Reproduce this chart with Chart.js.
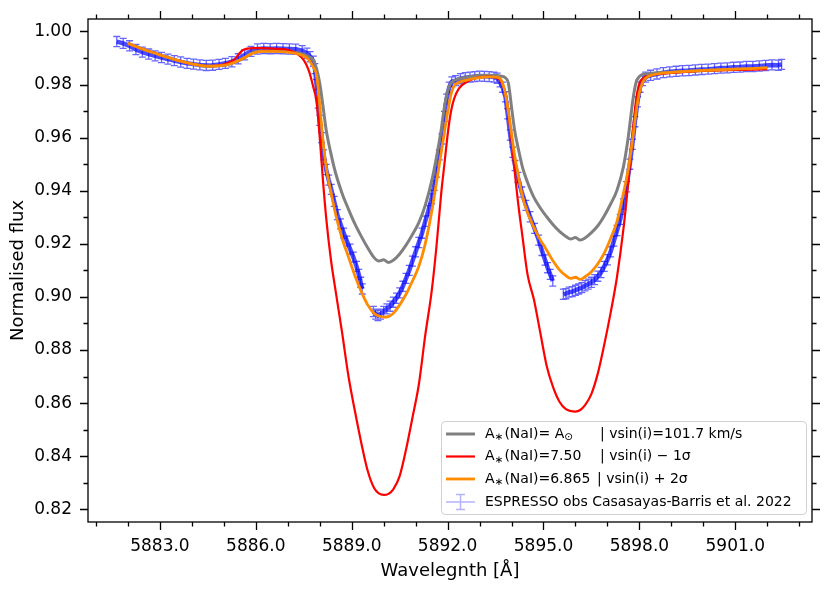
<!DOCTYPE html>
<html>
<head>
<meta charset="utf-8">
<script src="https://cdn.jsdelivr.net/npm/chart.js@4.4.0/dist/chart.umd.min.js"></script>
<style>
  html, body { margin: 0; padding: 0; background: #fff; }
  #wrap { width: 831px; height: 591px; }
</style>
</head>
<body>
<div id="wrap"><canvas id="naChart"></canvas></div>
<script>
// ESPRESSO observation (wavelength in A, normalised flux)
const obsWave = [
  5881.65, 5881.85, 5882.05, 5882.25, 5882.45, 5882.65, 5882.85, 5883.05, 5883.25, 5883.45,
  5883.65, 5883.85, 5884.05, 5884.25, 5884.45, 5884.65, 5884.85, 5885.05, 5885.25, 5885.45,
  5885.65, 5885.85, 5886.05, 5886.25, 5886.45, 5886.65, 5886.85, 5887.05, 5887.25, 5887.45,
  5887.60, 5887.70, 5887.80, 5887.85, 5887.90, 5887.95, 5888.00, 5888.06, 5888.12, 5888.20,
  5888.28, 5888.36, 5888.45, 5888.55, 5888.65, 5888.75, 5888.85, 5888.95, 5889.05, 5889.15,
  5889.22, 5889.28, 5889.33, null,
  5889.68, 5889.75, 5889.82, 5889.90, 5890.00, 5890.10, 5890.20, 5890.30, 5890.40, 5890.50,
  5890.60, 5890.70, 5890.80, 5890.90, 5891.00, 5891.10, 5891.20, 5891.30, 5891.40, 5891.50,
  5891.58, 5891.66, 5891.74, 5891.82, 5891.90, 5891.97, 5892.05, 5892.13, 5892.25, 5892.40,
  5892.55, 5892.70, 5892.85, 5893.00, 5893.15, 5893.30, 5893.45, 5893.55, 5893.64, 5893.72,
  5893.81, 5893.88, 5893.96, 5894.04, 5894.11, 5894.20, 5894.32, 5894.45, 5894.58, 5894.72,
  5894.85, 5894.95, 5895.05, 5895.13, 5895.21, 5895.29, null,
  5895.62, 5895.70, 5895.80, 5895.90, 5896.00, 5896.10, 5896.20, 5896.30, 5896.40, 5896.50,
  5896.60, 5896.70, 5896.80, 5896.90, 5897.00, 5897.10, 5897.20, 5897.30, 5897.40, 5897.50,
  5897.60, 5897.70, 5897.78, 5897.86, 5897.94, 5898.02, 5898.10, 5898.20, 5898.35, 5898.55,
  5898.75, 5898.95, 5899.15, 5899.35, 5899.55, 5899.75, 5899.95, 5900.15, 5900.35, 5900.55,
  5900.75, 5900.95, 5901.15, 5901.35, 5901.55, 5901.75, 5901.95, 5902.15, 5902.35, 5902.45
];
const obsFlux = [
  0.9962, 0.9955, 0.9946, 0.9932, 0.9922, 0.9915, 0.9908, 0.9902, 0.9896, 0.9890,
  0.9885, 0.9880, 0.9877, 0.9874, 0.9872, 0.9873, 0.9876, 0.9880, 0.9886, 0.9897,
  0.9912, 0.9925, 0.9934, 0.9936, 0.9935, 0.9936, 0.9935, 0.9934, 0.9933, 0.9928,
  0.9918, 0.9905, 0.9888, 0.9860, 0.9800, 0.9730, 0.9665, 0.9600, 0.9535, 0.9480,
  0.9440, 0.9405, 0.9360, 0.9310, 0.9275, 0.9240, 0.9210, 0.9180, 0.9150, 0.9115,
  0.9085, 0.9055, 0.9030, null,
  0.8945, 0.8935, 0.8930, 0.8935, 0.8945, 0.8955, 0.8965, 0.8980, 0.8995, 0.9015,
  0.9040, 0.9070, 0.9100, 0.9135, 0.9170, 0.9205, 0.9240, 0.9285, 0.9325, 0.9370,
  0.9420, 0.9470, 0.9535, 0.9595, 0.9680, 0.9745, 0.9790, 0.9810, 0.9815, 0.9822,
  0.9826, 0.9828, 0.9830, 0.9832, 0.9831, 0.9830, 0.9828, 0.9824, 0.9810, 0.9790,
  0.9754, 0.9690, 0.9610, 0.9545, 0.9495, 0.9450, 0.9395, 0.9345, 0.9302, 0.9258,
  0.9214, 0.9175, 0.9139, 0.9110, 0.9085, 0.9060, null,
  0.9010, 0.9012, 0.9018, 0.9020, 0.9025, 0.9030, 0.9035, 0.9042, 0.9048, 0.9055,
  0.9065, 0.9078, 0.9092, 0.9115, 0.9140, 0.9170, 0.9210, 0.9250, 0.9292, 0.9350,
  0.9415, 0.9500, 0.9575, 0.9660, 0.9735, 0.9790, 0.9815, 0.9828, 0.9835, 0.9840,
  0.9845, 0.9848, 0.9850, 0.9852, 0.9853, 0.9855, 0.9857, 0.9858, 0.9860, 0.9862,
  0.9863, 0.9865, 0.9866, 0.9868, 0.9868, 0.9870, 0.9872, 0.9874, 0.9873, 0.9876
];
const obsErr = 0.0019;

// synthetic spectra, shared wavelength grid
const modelWave = [
  5882.0, 5882.5, 5883.0, 5883.5, 5884.0, 5884.5, 5885.0, 5885.3, 5885.6, 5885.9,
  5886.2, 5886.6, 5887.0, 5887.3, 5887.5, 5887.65, 5887.8, 5887.9, 5888.0, 5888.1,
  5888.2, 5888.35, 5888.5, 5888.7, 5888.9, 5889.1, 5889.3, 5889.5, 5889.7, 5889.85,
  5890.0, 5890.15, 5890.3, 5890.5, 5890.7, 5890.9, 5891.1, 5891.3, 5891.5, 5891.65,
  5891.8, 5891.9, 5892.0, 5892.1, 5892.2, 5892.35, 5892.6, 5893.0, 5893.3, 5893.5,
  5893.65, 5893.8, 5893.9, 5894.0, 5894.1, 5894.2, 5894.35, 5894.5, 5894.7, 5894.9,
  5895.1, 5895.3, 5895.5, 5895.7, 5895.85, 5896.0, 5896.15, 5896.3, 5896.5, 5896.7,
  5896.9, 5897.1, 5897.3, 5897.5, 5897.65, 5897.8, 5897.9, 5898.0, 5898.1, 5898.2,
  5898.4, 5898.8, 5899.5, 5900.2, 5901.0, 5901.5, 5902.0
];
const fluxSolar = [
  0.9956, 0.9932, 0.9912, 0.9893, 0.9878, 0.9869, 0.9872, 0.9882, 0.9898, 0.9920,
  0.9926, 0.9926, 0.9924, 0.9920, 0.9914, 0.9906, 0.9892, 0.9860, 0.9805, 0.9720,
  0.9630, 0.9540, 0.9465, 0.9390, 0.9330, 0.9275, 0.9228, 0.9185, 0.9148, 0.9135,
  0.9140, 0.9130, 0.9138, 0.9162, 0.9195, 0.9235, 0.9280, 0.9345, 0.9435, 0.9525,
  0.9630, 0.9715, 0.9775, 0.9805, 0.9815, 0.9822, 0.9828, 0.9834, 0.9835, 0.9834,
  0.9832, 0.9826, 0.9806, 0.9715, 0.9625, 0.9565, 0.9485, 0.9432, 0.9375, 0.9335,
  0.9302, 0.9272, 0.9247, 0.9228, 0.9218, 0.9224, 0.9214, 0.9222, 0.9242, 0.9268,
  0.9305, 0.9350, 0.9402, 0.9490, 0.9600, 0.9745, 0.9810, 0.9830, 0.9838, 0.9840,
  0.9843, 0.9846, 0.9850, 0.9854, 0.9858, 0.9860, 0.9863
];
const fluxHigh = [
  0.9955, 0.9932, 0.9912, 0.9893, 0.9878, 0.9870, 0.9876, 0.9892, 0.9930, 0.9937,
  0.9937, 0.9935, 0.9931, 0.9915, 0.9892, 0.9855, 0.9790, 0.9735, 0.9600, 0.9440,
  0.9300, 0.9140, 0.9020, 0.8865, 0.8700, 0.8570, 0.8450, 0.8345, 0.8280, 0.8260,
  0.8254, 0.8258, 0.8275, 0.8325, 0.8425, 0.8545, 0.8670, 0.8855, 0.9020, 0.9188,
  0.9390, 0.9500, 0.9610, 0.9695, 0.9745, 0.9785, 0.9810, 0.9828, 0.9830, 0.9826,
  0.9815, 0.9770, 0.9690, 0.9590, 0.9470, 0.9360, 0.9220, 0.9085, 0.8990, 0.8865,
  0.8740, 0.8660, 0.8605, 0.8577, 0.8570, 0.8568, 0.8574, 0.8592, 0.8635, 0.8712,
  0.8820, 0.8940, 0.9076, 0.9255, 0.9430, 0.9630, 0.9745, 0.9805, 0.9822, 0.9830,
  0.9836, 0.9842, 0.9848, 0.9852, 0.9855, 0.9856, 0.9858
];
const fluxBest = [
  0.9955, 0.9932, 0.9912, 0.9893, 0.9878, 0.9869, 0.9872, 0.9882, 0.9898, 0.9918,
  0.9925, 0.9925, 0.9922, 0.9916, 0.9908, 0.9895, 0.9865, 0.9835, 0.9720, 0.9590,
  0.9490, 0.9395, 0.9310, 0.9220, 0.9150, 0.9080, 0.9020, 0.8970, 0.8938, 0.8928,
  0.8924, 0.8926, 0.8938, 0.8970, 0.9010, 0.9060, 0.9115, 0.9200, 0.9320, 0.9430,
  0.9545, 0.9620, 0.9695, 0.9760, 0.9795, 0.9808, 0.9817, 0.9826, 0.9829, 0.9828,
  0.9822, 0.9770, 0.9700, 0.9615, 0.9530, 0.9465, 0.9375, 0.9318, 0.9262, 0.9215,
  0.9176, 0.9135, 0.9102, 0.9080, 0.9070, 0.9074, 0.9066, 0.9076, 0.9095, 0.9125,
  0.9165, 0.9220, 0.9285, 0.9390, 0.9480, 0.9605, 0.9700, 0.9770, 0.9808, 0.9825,
  0.9836, 0.9844, 0.9850, 0.9854, 0.9858, 0.9860, 0.9863
];

const xTicks = [5883, 5886, 5889, 5892, 5895, 5898, 5901];
const yTicks = [0.82, 0.84, 0.86, 0.88, 0.90, 0.92, 0.94, 0.96, 0.98, 1.00];
const xRange = [5880.75, 5903.4];
const yRange = [0.8152, 1.0047];

const FONT = "'DejaVu Sans', 'Liberation Sans', sans-serif";
// where the plot frame should sit on the 831x591 page
const frame = { left: 88, top: 19, right: 812, bottom: 522 };

function pairs(xs, ys) {
  return xs.map((x, i) => ({ x: x, y: ys[i] }));
}

// outward ticks on all four sides, major + minor
const frameTicks = {
  id: "frameTicks",
  afterDraw(chart) {
    const { ctx, chartArea: a, scales } = chart;
    ctx.save();
    ctx.strokeStyle = "#000";
    ctx.lineWidth = 1.3;
    ctx.strokeRect(a.left, a.top, a.right - a.left, a.bottom - a.top);
    ctx.beginPath();
    for (let v = Math.ceil(xRange[0]); v <= xRange[1]; v++) {
      const x = Math.round(scales.x.getPixelForValue(v)) + 0.5;
      const len = xTicks.includes(v) ? 8 : 4.5;
      ctx.moveTo(x, a.bottom); ctx.lineTo(x, a.bottom + len);
      ctx.moveTo(x, a.top); ctx.lineTo(x, a.top - len);
    }
    for (let k = 82; k <= 100; k++) {
      const y = Math.round(scales.y.getPixelForValue(k / 100)) + 0.5;
      const len = k % 2 === 0 ? 8 : 4.5;
      ctx.moveTo(a.left, y); ctx.lineTo(a.left - len, y);
      ctx.moveTo(a.right, y); ctx.lineTo(a.right + len, y);
    }
    ctx.stroke();
    ctx.restore();
  }
};

// vertical error bars with caps on the observed spectrum
const errorBars = {
  id: "errorBars",
  afterDatasetDraw(chart, args) {
    const ds = chart.data.datasets[args.index];
    if (!ds.errorBar) return;
    const { ctx, scales } = chart;
    ctx.save();
    ctx.strokeStyle = "rgba(0,0,255,0.6)";
    ctx.lineWidth = 1.3;
    ctx.beginPath();
    ds.data.forEach(p => {
      if (p.x === null || p.y === null) return;
      const x = scales.x.getPixelForValue(p.x);
      const y1 = scales.y.getPixelForValue(p.y - obsErr);
      const y2 = scales.y.getPixelForValue(p.y + obsErr);
      ctx.moveTo(x, y1); ctx.lineTo(x, y2);
      ctx.moveTo(x - 3.5, y1); ctx.lineTo(x + 3.5, y1);
      ctx.moveTo(x - 3.5, y2); ctx.lineTo(x + 3.5, y2);
    });
    ctx.stroke();
    ctx.restore();
  }
};

// legend box in the lower right, with subscripts; third field = x of the text piece
const legendRows = [
  [["A"], ["\u2217", 1], ["(NaI)= A"], ["\u2299", 1], ["| vsin(i)=101.7 km/s", 0, 600]],
  [["A"], ["\u2217", 1], ["(NaI)=7.50"], ["| vsin(i) \u2212 1\u03c3", 0, 600]],
  [["A"], ["\u2217", 1], ["(NaI)=6.865"], ["| vsin(i) + 2\u03c3", 0, 597]],
  [["ESPRESSO obs Casasayas-Barris et al. 2022"]]
];
const richLegend = {
  id: "richLegend",
  afterDraw(chart) {
    const ctx = chart.ctx;
    const box = { x: 441, y: 421, w: 365, h: 93 };
    const rowY = [434, 456.5, 479, 502];
    ctx.save();
    ctx.fillStyle = "rgba(255,255,255,0.85)";
    ctx.strokeStyle = "#d0d0d0";
    ctx.lineWidth = 1;
    ctx.beginPath();
    ctx.roundRect(box.x + 0.5, box.y + 0.5, box.w, box.h, 4);
    ctx.fill();
    ctx.stroke();
    chart.data.datasets.forEach((ds, r) => {
      const y = rowY[r];
      if (ds.errorBar) {
        ctx.strokeStyle = "rgba(0,0,255,0.3)";
        ctx.lineWidth = 1.5;
        ctx.beginPath();
        ctx.moveTo(446, y); ctx.lineTo(475, y);
        ctx.moveTo(460.5, y - 7.5); ctx.lineTo(460.5, y + 7.5);
        ctx.moveTo(456, y - 7.5); ctx.lineTo(465, y - 7.5);
        ctx.moveTo(456, y + 7.5); ctx.lineTo(465, y + 7.5);
        ctx.stroke();
      } else {
        ctx.strokeStyle = ds.borderColor;
        ctx.lineWidth = ds.borderWidth;
        ctx.beginPath();
        ctx.moveTo(446, y); ctx.lineTo(475, y);
        ctx.stroke();
      }
      let x = 485;
      ctx.fillStyle = "#000";
      ctx.textBaseline = "middle";
      legendRows[r].forEach(([txt, sub, at]) => {
        if (at) x = at;
        ctx.font = (sub ? "10.5px " : "14px ") + FONT;
        ctx.fillText(txt, x, sub ? y + 3.5 : y);
        x += ctx.measureText(txt).width + (sub ? 1 : 0);
      });
    });
    ctx.restore();
  }
};

new Chart(document.getElementById("naChart"), {
  type: "line",
  data: {
    datasets: [
      {
        label: "A*(NaI)= A_sun | vsin(i)=101.7 km/s",
        data: pairs(modelWave, fluxSolar),
        borderColor: "#808080",
        borderWidth: 3,
        cubicInterpolationMode: "monotone",
        order: 3
      },
      {
        label: "A*(NaI)=7.50 | vsin(i) - 1 sigma",
        data: pairs(modelWave, fluxHigh),
        borderColor: "#ff0000",
        borderWidth: 2.2,
        cubicInterpolationMode: "monotone",
        order: 2
      },
      {
        label: "A*(NaI)=6.865 | vsin(i) + 2 sigma",
        data: pairs(modelWave, fluxBest),
        borderColor: "#ff8c00",
        borderWidth: 2.8,
        cubicInterpolationMode: "monotone",
        order: 1
      },
      {
        label: "ESPRESSO obs Casasayas-Barris et al. 2022",
        data: pairs(obsWave, obsFlux),
        borderColor: "rgba(0,0,255,0.7)",
        borderWidth: 4.5,
        spanGaps: false,
        errorBar: true,
        order: 4
      }
    ]
  },
  options: {
    responsive: true,
    maintainAspectRatio: false,
    animation: false,
    layout: { padding: { top: frame.top, right: 831 - frame.right, left: 0, bottom: 0 } },
    elements: { point: { radius: 0 }, line: { tension: 0 } },
    scales: {
      x: {
        type: "linear",
        min: xRange[0],
        max: xRange[1],
        afterBuildTicks: s => { s.ticks = xTicks.map(v => ({ value: v })); },
        afterFit: s => { s.height = 591 - frame.bottom; },
        grid: { display: true, drawOnChartArea: false, drawTicks: false },
        border: { display: false },
        ticks: {
          padding: 14,
          maxRotation: 0,
          color: "#000",
          font: { family: FONT, size: 17 },
          callback: v => Number(v).toFixed(1)
        },
        title: {
          display: true,
          text: "Wavelegnth [Å]",
          color: "#000",
          font: { family: FONT, size: 18 },
          padding: { top: 9, bottom: 9 }
        }
      },
      y: {
        min: yRange[0],
        max: yRange[1],
        afterBuildTicks: s => { s.ticks = yTicks.map(v => ({ value: v })); },
        afterFit: s => { s.width = frame.left; },
        grid: { display: true, drawOnChartArea: false, drawTicks: false },
        border: { display: false },
        ticks: {
          padding: 16,
          color: "#000",
          // tiny lineHeight so the label half-height does not push the plot top down
          font: { family: FONT, size: 17, lineHeight: 0.1 },
          callback: v => Number(v).toFixed(2)
        },
        title: {
          display: true,
          text: "Normalised flux",
          color: "#000",
          font: { family: FONT, size: 18 },
          padding: { top: 8, bottom: 8 }
        }
      }
    },
    plugins: {
      legend: { display: false },
      tooltip: { enabled: false }
    }
  },
  plugins: [errorBars, frameTicks, richLegend]
});
</script>
</body>
</html>
